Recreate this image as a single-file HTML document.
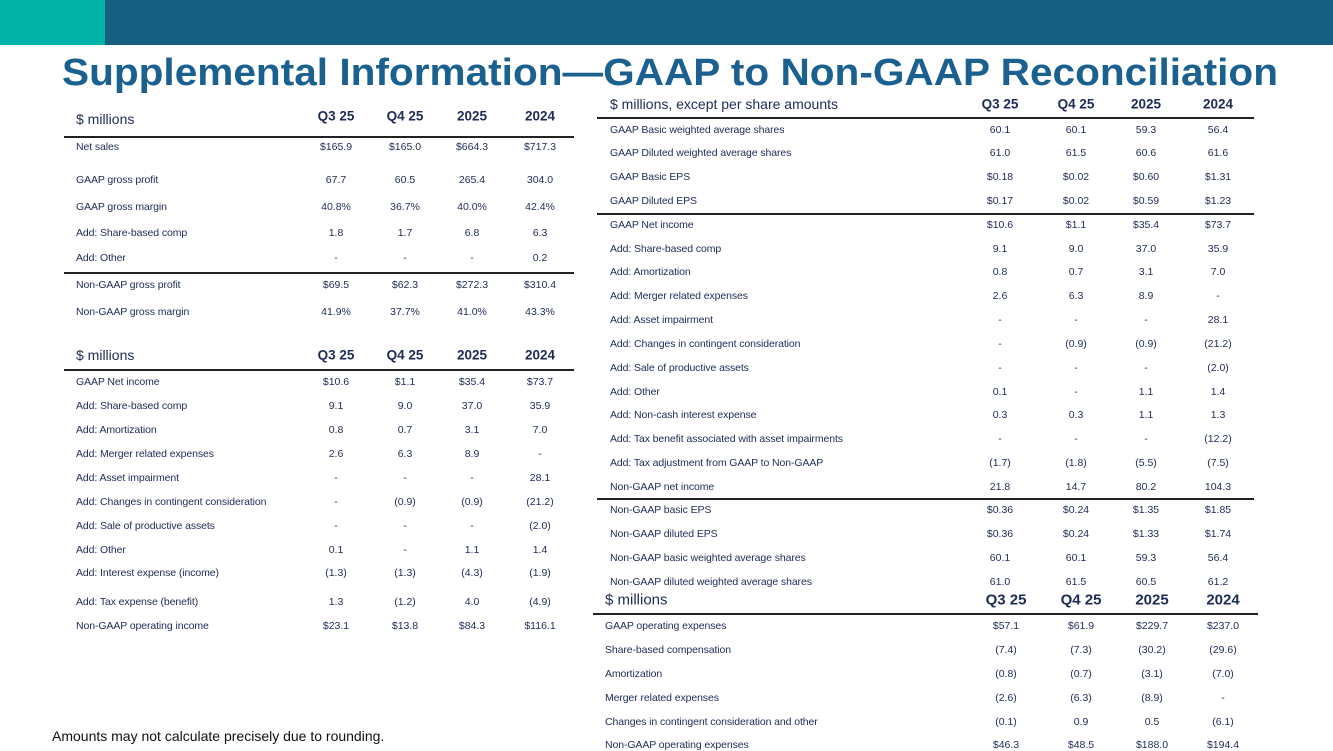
<!DOCTYPE html>
<html><head><meta charset="utf-8">
<style>
body{margin:0;width:1333px;height:749px;overflow:hidden;background:#fff;position:relative;font-family:"Liberation Sans",sans-serif;color:#1e2b55}
.t{position:absolute;white-space:nowrap;line-height:1}
.r{font-size:10.5px;transform:translateY(-50%);letter-spacing:-0.1px}
.v{transform:translate(-50%,-50%);font-size:10.5px}
.h{font-size:13.5px;font-weight:bold;transform:translate(-50%,-50%)}
.hl{font-size:14px;transform:translateY(-50%)}
.ln{position:absolute;height:1.5px;background:#222}
</style></head><body>
<div style="position:absolute;left:0;top:0;width:105px;height:45px;background:#00b3a6"></div>
<div style="position:absolute;left:105px;top:0;width:1228px;height:45px;background:#175f80"></div>
<svg style="position:absolute;left:0;top:40px" width="1333" height="60"><text x="62" y="45" textLength="1216" lengthAdjust="spacingAndGlyphs" font-family="Liberation Sans" font-weight="bold" font-size="38" fill="#1b6190">Supplemental Information—GAAP to Non-GAAP Reconciliation</text></svg>
<div class="t" style="left:52px;top:729px;font-size:14px;color:#111">Amounts may not calculate precisely due to rounding.</div>
<div id="root"></div>
<script>
const headers=["Q3 25","Q4 25","2025","2024"];
const t1Rows=[["Net sales","$165.9","$165.0","$664.3","$717.3",147],["GAAP gross profit","67.7","60.5","265.4","304.0",180],["GAAP gross margin","40.8%","36.7%","40.0%","42.4%",207],["Add: Share-based comp","1.8","1.7","6.8","6.3",233],["Add: Other","-","-","-","0.2",258],["Non-GAAP gross profit","$69.5","$62.3","$272.3","$310.4",285],["Non-GAAP gross margin","41.9%","37.7%","41.0%","43.3%",312]];
const t2Rows=[["GAAP Net income","$10.6","$1.1","$35.4","$73.7",382],["Add: Share-based comp","9.1","9.0","37.0","35.9",406],["Add: Amortization","0.8","0.7","3.1","7.0",430],["Add: Merger related expenses","2.6","6.3","8.9","-",454],["Add: Asset impairment","-","-","-","28.1",478],["Add: Changes in contingent consideration","-","(0.9)","(0.9)","(21.2)",502],["Add: Sale of productive assets","-","-","-","(2.0)",526],["Add: Other","0.1","-","1.1","1.4",550],["Add: Interest expense (income)","(1.3)","(1.3)","(4.3)","(1.9)",573],["Add: Tax expense (benefit)","1.3","(1.2)","4.0","(4.9)",602],["Non-GAAP operating income","$23.1","$13.8","$84.3","$116.1",626]];
const t3Rows=[["GAAP Basic weighted average shares","60.1","60.1","59.3","56.4",130],["GAAP Diluted weighted average shares","61.0","61.5","60.6","61.6",153],["GAAP Basic EPS","$0.18","$0.02","$0.60","$1.31",177],["GAAP Diluted EPS","$0.17","$0.02","$0.59","$1.23",201],["GAAP Net income","$10.6","$1.1","$35.4","$73.7",225],["Add: Share-based comp","9.1","9.0","37.0","35.9",249],["Add: Amortization","0.8","0.7","3.1","7.0",272],["Add: Merger related expenses","2.6","6.3","8.9","-",296],["Add: Asset impairment","-","-","-","28.1",320],["Add: Changes in contingent consideration","-","(0.9)","(0.9)","(21.2)",344],["Add: Sale of productive assets","-","-","-","(2.0)",368],["Add: Other","0.1","-","1.1","1.4",392],["Add: Non-cash interest expense","0.3","0.3","1.1","1.3",415],["Add: Tax benefit associated with asset impairments","-","-","-","(12.2)",439],["Add: Tax adjustment from GAAP to Non-GAAP","(1.7)","(1.8)","(5.5)","(7.5)",463],["Non-GAAP net income","21.8","14.7","80.2","104.3",487],["Non-GAAP basic EPS","$0.36","$0.24","$1.35","$1.85",510],["Non-GAAP diluted EPS","$0.36","$0.24","$1.33","$1.74",534],["Non-GAAP basic weighted average shares","60.1","60.1","59.3","56.4",558],["Non-GAAP diluted weighted average shares","61.0","61.5","60.5","61.2",582]];
const t4Rows=[["GAAP operating expenses","$57.1","$61.9","$229.7","$237.0",626],["Share-based compensation","(7.4)","(7.3)","(30.2)","(29.6)",650],["Amortization","(0.8)","(0.7)","(3.1)","(7.0)",674],["Merger related expenses","(2.6)","(6.3)","(8.9)","-",698],["Changes in contingent consideration and other","(0.1)","0.9","0.5","(6.1)",722],["Non-GAAP operating expenses","$46.3","$48.5","$188.0","$194.4",745]];
const root=document.getElementById('root');
function txt(cls,x,y,s,st){const d=document.createElement('div');d.className='t '+cls;d.style.left=x+'px';d.style.top=y+'px';d.textContent=s;if(st)d.style.cssText+=st;root.appendChild(d);return d;}
function line(x1,x2,y){const d=document.createElement('div');d.className='ln';d.style.left=x1+'px';d.style.top=y+'px';d.style.width=(x2-x1)+'px';root.appendChild(d);

}
function table(name,title,hy,hx,cols,lx,rows,x1,x2,rules,hs,ty){
 const t=txt('hl',hx,ty||hy,title,hs?'font-size:'+hs+'px':'');
 
 
 headers.forEach((h,i)=>{const e=txt('h',cols[i],hy,h,hs?'font-size:'+hs+'px':'');
  
  });
 rules.forEach(y=>line(x1,x2,y));
 rows.forEach(r=>{const e=txt('r',lx,r[5],r[0]);
  
  
  for(let i=0;i<4;i++){const c=txt('v',cols[i],r[5],r[i+1]);
   
   }});
}
table('gross-profit-table','$ millions',116,76,[336,405,472,540],76,t1Rows,64,574,[136,272],null,119);
table('operating-income-table','$ millions',355,76,[336,405,472,540],76,t2Rows,64,574,[369]);
table('eps-table','$ millions, except per share amounts',104,610,[1000,1076,1146,1218],610,t3Rows,597,1254,[117,213,498]);
table('opex-table','$ millions',600,605,[1006,1081,1152,1223],605,t4Rows,593,1258,[613],15);
</script>
</body></html>
